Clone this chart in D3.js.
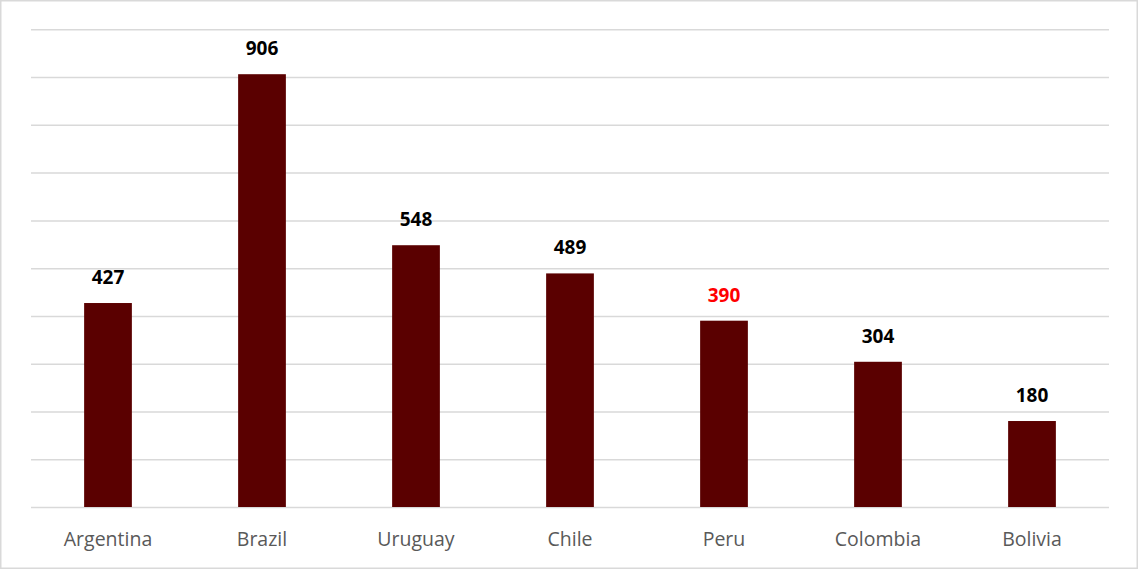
<!DOCTYPE html>
<html>
<head>
<meta charset="utf-8">
<script src="https://cdn.jsdelivr.net/npm/d3@7"></script>
<style>
  body { margin: 0; background: #fff; }
  .grid line { stroke: #d9d9d9; stroke-width: 1.5; }
  .grid path { display: none; }
</style>
</head>
<body>
<div id="chart"></div>
<script>
var countries = ["Argentina", "Brazil", "Uruguay", "Chile", "Peru", "Colombia", "Bolivia"];
var values = [427, 906, 548, 489, 390, 304, 180];
var highlight = ["Peru"];
var gridTicks = [0, 100, 200, 300, 400, 500, 600, 700, 800, 900, 1000];

var width = 1138, height = 569;
var plotLeft = 31, plotRight = 1109, plotTop = 29.3, plotBottom = 507;

var svg = d3.select("#chart").append("svg")
    .attr("width", width)
    .attr("height", height);

svg.append("rect")
    .attr("x", 0.75).attr("y", 0.75)
    .attr("width", width - 1.5).attr("height", height - 1.5)
    .attr("fill", "#fff")
    .attr("stroke", "#d9d9d9")
    .attr("stroke-width", 1.5);

var x = d3.scaleBand()
    .domain(countries)
    .range([plotLeft, plotRight])
    .paddingInner(0.69)
    .paddingOuter(0.345);

var y = d3.scaleLinear()
    .domain([0, 1000])
    .range([plotBottom, plotTop]);

// gridlines
svg.append("g")
    .attr("class", "grid")
    .attr("transform", "translate(" + plotLeft + ",0)")
    .call(d3.axisLeft(y).tickValues(gridTicks).tickSize(-(plotRight - plotLeft)).tickFormat(""));

// bars
svg.selectAll(".bar")
    .data(values)
    .enter().append("rect")
    .attr("class", "bar")
    .attr("x", function(d, i){ return x(countries[i]); })
    .attr("y", function(d){ return y(d); })
    .attr("width", x.bandwidth())
    .attr("height", function(d){ return plotBottom - y(d); })
    .attr("fill", "#5a0000");

// value labels
svg.selectAll(".val")
    .data(values)
    .enter().append("text")
    .attr("class", "val")
    .attr("x", function(d, i){ return x(countries[i]) + x.bandwidth() / 2; })
    .attr("y", function(d){ return y(d) - 19; })
    .attr("text-anchor", "middle")
    .style("font-family", "'Open Sans', sans-serif")
    .style("font-size", "19px")
    .style("font-weight", "bold")
    .style("fill", function(d, i){ return highlight.indexOf(countries[i]) >= 0 ? "#ff0000" : "#000"; })
    .text(function(d){ return d; });

// category labels
svg.selectAll(".cat")
    .data(countries)
    .enter().append("text")
    .attr("class", "cat")
    .attr("x", function(d){ return x(d) + x.bandwidth() / 2; })
    .attr("y", 546)
    .attr("text-anchor", "middle")
    .style("font-family", "'Open Sans', sans-serif")
    .style("font-size", "19.5px")
    .style("fill", "#595959")
    .text(function(d){ return d; });
</script>
</body>
</html>
